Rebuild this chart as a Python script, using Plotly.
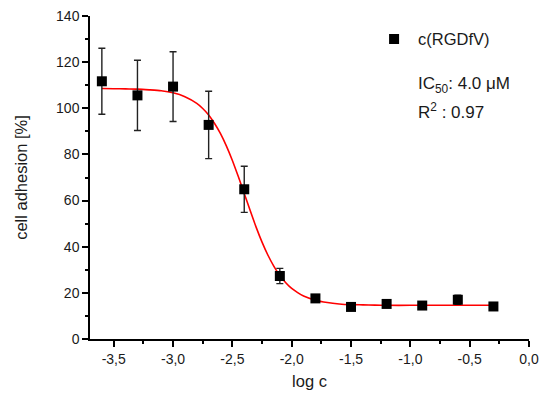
import plotly.graph_objects as go

# ---- data ----
log_c = [-3.6, -3.3, -3.0, -2.7, -2.4, -2.1, -1.8, -1.5, -1.2, -0.9, -0.6, -0.3]
adhesion = [111.7, 105.6, 109.4, 92.8, 64.9, 27.3, 17.6, 13.9, 15.2, 14.5, 17.0, 14.1]
adhesion_err = [14.3, 15.2, 15.1, 14.6, 10.0, 3.3, 1.5, 1.2, 1.2, 1.2, 2.0, 1.2]

fit_x = [-3.6, -3.5, -3.4, -3.3, -3.2, -3.1, -3.0, -2.9, -2.8, -2.75, -2.7, -2.65,
         -2.6, -2.55, -2.5, -2.45, -2.4, -2.35, -2.3, -2.25, -2.2, -2.15, -2.1,
         -2.05, -2.0, -1.95, -1.9, -1.8, -1.7, -1.6, -1.5, -1.4, -1.3, -1.2,
         -1.0, -0.8, -0.6, -0.3]
fit_y = [108.6, 108.5, 108.4, 108.3, 108.0, 107.6, 106.7, 105.0, 102.1, 99.9, 97.1, 93.4,
         89.0, 83.6, 77.4, 70.4, 63.1, 55.7, 48.5, 42.0, 36.3, 31.5, 27.5,
         24.4, 21.9, 20.1, 18.6, 16.8, 15.8, 15.2, 14.9, 14.8, 14.7, 14.6,
         14.6, 14.6, 14.6, 14.6]

x_tickvals = [-3.5, -3.0, -2.5, -2.0, -1.5, -1.0, -0.5, 0.0]
x_ticktext = ["-3,5", "-3,0", "-2,5", "-2,0", "-1,5", "-1,0", "-0,5", "0,0"]
y_tickvals = [0, 20, 40, 60, 80, 100, 120, 140]

series_name = "c(RGDfV)"
ic50_text = "IC<sub>50</sub>: 4.0 \u03bcM"
r2_text = "R<sup>2</sup> : 0.97"

FONT = "Liberation Sans, Arial, sans-serif"
TXT = "#1a1a1a"

fig = go.Figure()
fig.add_trace(go.Scatter(
    x=fit_x, y=fit_y, mode="lines", line=dict(color="#ff0000", width=1.6, shape="spline", smoothing=0.6),
    showlegend=False, hoverinfo="skip"))
fig.add_trace(go.Scatter(
    x=log_c, y=adhesion, mode="markers", name=series_name,
    marker=dict(symbol="square", size=10, color="black"),
    error_y=dict(type="data", array=adhesion_err, visible=True, color="#222222", thickness=1.4, width=3.5),
    showlegend=True))

fig.update_layout(
    width=543, height=396,
    margin=dict(l=89.5, r=14.3, t=16.3, b=57.3, autoexpand=False),
    plot_bgcolor="white", paper_bgcolor="white",
    font=dict(family=FONT, size=14, color=TXT),
    legend=dict(x=0.638, y=0.982, xanchor="left", yanchor="top", itemwidth=38,
                font=dict(size=16.5, color=TXT), bgcolor="rgba(0,0,0,0)"),
    annotations=[
        dict(text=ic50_text, x=0.743, y=0.785, xref="paper", yref="paper",
             xanchor="left", yanchor="middle", showarrow=False, font=dict(size=17, color=TXT)),
        dict(text=r2_text, x=0.743, y=0.706, xref="paper", yref="paper",
             xanchor="left", yanchor="middle", showarrow=False, font=dict(size=17, color=TXT)),
    ],
)
fig.update_xaxes(
    range=[-3.7, 0], tickmode="array", tickvals=x_tickvals, ticktext=x_ticktext,
    ticks="outside", ticklen=6, tickwidth=1.5, tickcolor="black",
    minor=dict(tickmode="linear", tick0=0, dtick=0.25, ticks="outside", ticklen=3, tickwidth=1.5, tickcolor="black"),
    showline=True, linecolor="black", linewidth=1.5, showgrid=False, zeroline=False,
    automargin=False,
    title=dict(text="log c", font=dict(size=16.5, color=TXT), standoff=10),
    tickfont=dict(size=14, color=TXT))
fig.update_yaxes(
    range=[0, 140], tickmode="array", tickvals=y_tickvals,
    ticks="outside", ticklen=6, tickwidth=1.5, tickcolor="black",
    minor=dict(tickmode="linear", tick0=0, dtick=10, ticks="outside", ticklen=3, tickwidth=1.5, tickcolor="black"),
    showline=True, linecolor="black", linewidth=1.5, showgrid=False, zeroline=False,
    automargin=False,
    title=dict(text="cell adhesion [%]", font=dict(size=16.5, color=TXT), standoff=24),
    tickfont=dict(size=14, color=TXT))

fig.write_html("out.html")
